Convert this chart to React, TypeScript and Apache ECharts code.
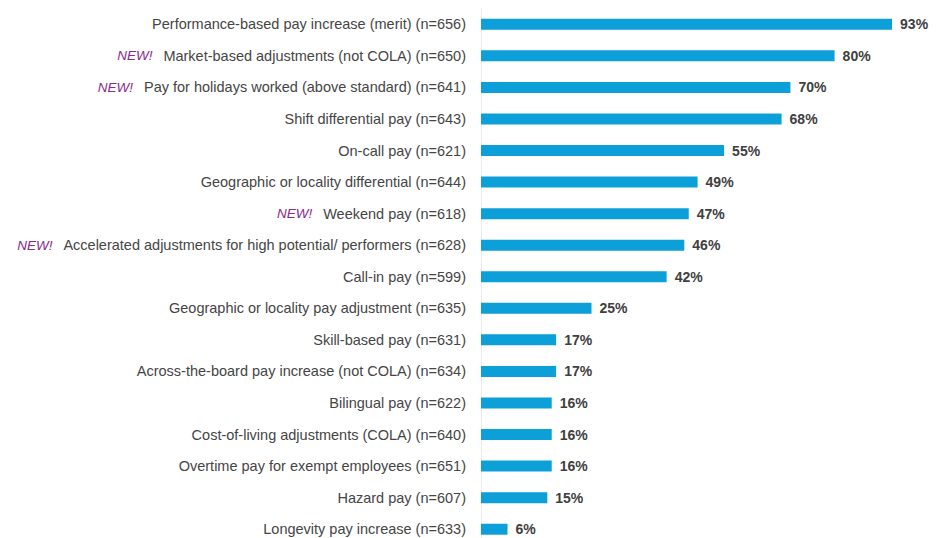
import React, { useEffect, useRef } from "react";
import * as echarts from "echarts";

const categories = [
  "Performance-based pay increase (merit) (n=656)",
  "Market-based adjustments (not COLA) (n=650)",
  "Pay for holidays worked (above standard) (n=641)",
  "Shift differential pay (n=643)",
  "On-call pay (n=621)",
  "Geographic or locality differential (n=644)",
  "Weekend pay (n=618)",
  "Accelerated adjustments for high potential/ performers (n=628)",
  "Call-in pay (n=599)",
  "Geographic or locality pay adjustment (n=635)",
  "Skill-based pay (n=631)",
  "Across-the-board pay increase (not COLA) (n=634)",
  "Bilingual pay (n=622)",
  "Cost-of-living adjustments (COLA) (n=640)",
  "Overtime pay for exempt employees (n=651)",
  "Hazard pay (n=607)",
  "Longevity pay increase (n=633)",
];

const isNew = [false, true, true, false, false, false, true, true, false, false, false, false, false, false, false, false, false];

const values = [93, 80, 70, 68, 55, 49, 47, 46, 42, 25, 17, 17, 16, 16, 16, 15, 6];

const newTag = "NEW!";

export default function App() {
  const ref = useRef<HTMLDivElement>(null);
  useEffect(() => {
    if (!ref.current) return;
    const chart = echarts.init(ref.current, null, { renderer: "svg" });
    const font = "'Liberation Sans', Arial, sans-serif";
    chart.setOption({
      animation: false,
      grid: { left: 481, top: 8.5, width: 442, height: 536.5, containLabel: false },
      xAxis: {
        type: "value",
        min: 0,
        max: 100,
        show: false,
      },
      yAxis: {
        type: "category",
        inverse: true,
        data: categories,
        axisLine: { show: true, lineStyle: { color: "#ebebeb", width: 1 } },
        axisTick: { show: false },
        axisLabel: {
          margin: 15,
          fontFamily: font,
          fontSize: 14.5,
          color: "#454545",
          formatter: (v: string, i: number) =>
            isNew[i] ? `{n|${newTag}}{g|}${v}` : v,
          rich: {
            n: {
              fontFamily: font,
              fontSize: 13.5,
              fontStyle: "italic",
              color: "#8a2b8c",
            },
            g: { width: 11 },
          },
        },
      },
      series: [
        {
          type: "bar",
          data: values,
          barWidth: 11,
          itemStyle: { color: "#0c9fd8" },
          label: {
            show: true,
            position: "right",
            distance: 8,
            formatter: "{c}%",
            fontFamily: font,
            fontSize: 14,
            fontWeight: "bold",
            color: "#404040",
          },
        },
      ],
    });
    return () => chart.dispose();
  }, []);
  return (
    <div
      style={{ position: "fixed", left: 0, top: 0, width: 938, height: 538, overflow: "hidden", background: "#fff" }}
    >
      <div ref={ref} style={{ width: 938, height: 570 }} />
    </div>
  );
}
